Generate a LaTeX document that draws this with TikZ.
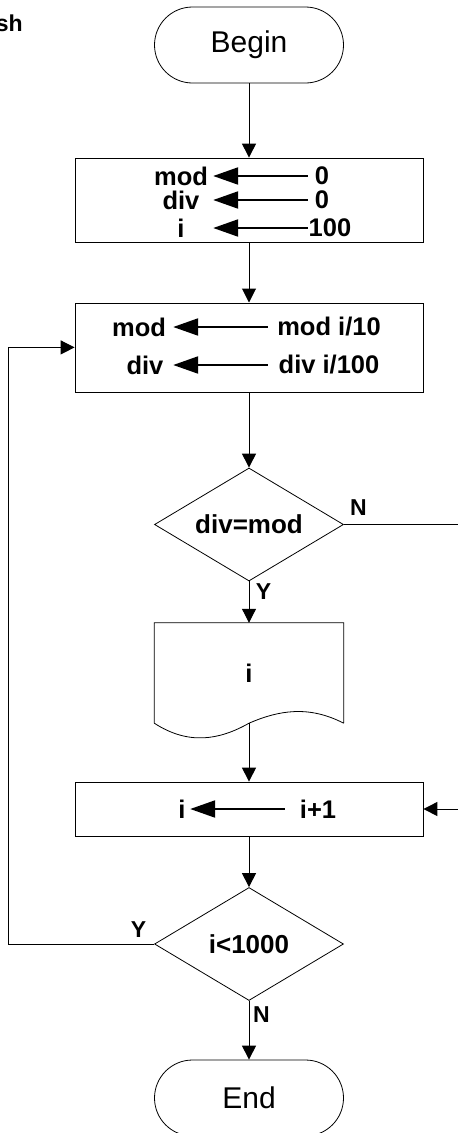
\documentclass[tikz,border=0pt]{standalone}
\usepackage{fontspec}
\setmainfont{Liberation Sans}
\usetikzlibrary{arrows.meta,shapes.geometric}

\begin{document}
\begin{tikzpicture}[x=1pt,y=-1pt,
  term/.style={draw,line width=0.8pt,rounded corners=38pt,minimum width=189pt,
    minimum height=76pt,font=\fontsize{30}{30}\selectfont},
  proc/.style={draw,line width=0.8pt,minimum width=348pt},
  decide/.style={draw,diamond,aspect=1.67,line width=0.8pt,minimum width=189pt,
    minimum height=113pt,inner sep=1pt,font=\fontsize{26}{26}\selectfont\bfseries},
  var/.style={inner sep=0pt,font=\fontsize{25.5}{25.5}\selectfont\bfseries},
  lbl/.style={font=\fontsize{23}{23}\selectfont\bfseries},
  flow/.style={line width=1pt,-{Triangle[length=14pt,width=14pt]}},
  assign/.style={line width=2.2pt,-{Triangle[length=25pt,width=17pt]}}]
  \useasboundingbox (0,0) rectangle (458,1133);
  \node[lbl,anchor=east,inner sep=0pt] (title) at (23,23) {sh};
  \node[term] (begin) at (249,45) {Begin};
  \node[proc,minimum height=84pt] (init) at (249,200) {};
  \node[proc,minimum height=89pt] (calc) at (249,347.4) {};
  \node[decide] (eq) at (249,524.5) {div=mod};
  \node[minimum width=189pt,minimum height=100pt,inner sep=0pt,
    font=\fontsize{25.5}{25.5}\selectfont\bfseries] (out) at (249,673) {i};
  \draw[line width=0.8pt] (out.south east) -- (out.north east) -- (out.north west)
    -- (out.south west) .. controls +(34,22) and +(-30,17) .. (out.south)
    .. controls +(30,-13) and +(-35,-18) .. (out.south east);
  \node[proc,minimum height=54pt] (inc) at (249,809) {};
  \node[decide] (loop) at (249,944) {i<1000};
  \node[term] (stop) at (249,1098) {End};
  \foreach \n/\l/\lc/\lw/\r/\rc/\rw/\y in {
      a/mod/181/64/0/322/28/176,
      b/div/181/64/0/322/28/200,
      c/i/181/64/100/330/44/228,
      d/mod/139/68/{mod i/10}/329/122/327,
      e/div/145/56/{div i/100}/329/122/365,
      f/i/182/16/{i+1}/318/66/809}
    {\node[var,minimum width=\lw pt] (l\n) at (\lc,\y) {\l};
     \node[var,minimum width=\rw pt] (r\n) at (\rc,\y) {\r};
     \draw[assign] (r\n.west) -- (l\n.east);}
  \node[lbl] (n1) at (358.5,508) {N};
  \node[lbl] (y1) at (263.5,592) {Y};
  \node[lbl] (y2) at (138.5,930) {Y};
  \node[lbl] (n2) at (261.5,1015) {N};
  \coordinate (skip) at (458,524.5);
  \coordinate (back) at (458,809);
  \draw[flow] (begin) -- (init);
  \draw[flow] (init) -- (calc);
  \draw[flow] (calc) -- (eq);
  \draw[flow] (eq) -- (out);
  \draw[flow] (out.south) -- (inc);
  \draw[flow] (inc) -- (loop);
  \draw[flow] (loop) -- (stop);
  \draw[line width=1pt] (eq.east) -- (skip);
  \draw[flow] (back) -- (inc.east);
  \draw[flow] (loop.west) -- ++(-146,0) |- (calc.west);
\end{tikzpicture}
\end{document}
